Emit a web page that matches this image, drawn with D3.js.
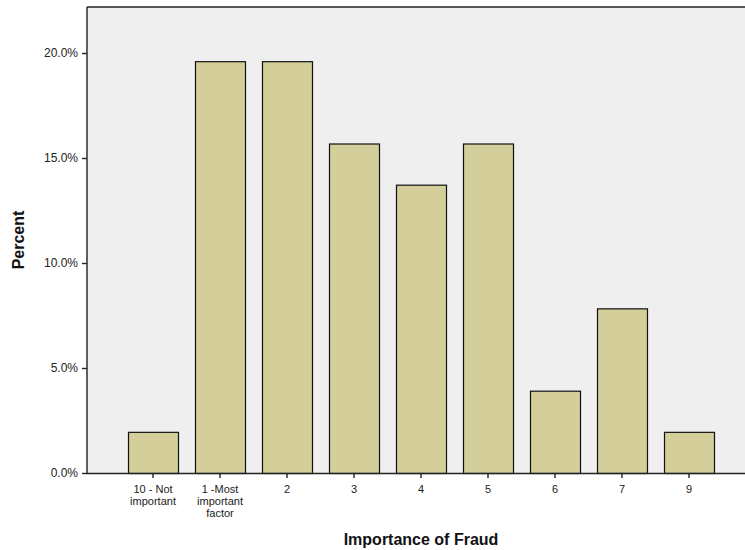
<!DOCTYPE html>
<html><head><meta charset="utf-8">
<script src="https://cdn.jsdelivr.net/npm/d3@7"></script>
<style>body{margin:0;background:#fff}svg{display:block}text{font-family:"Liberation Sans",Arial,sans-serif}</style>
</head><body><svg id="c" width="745" height="550"></svg>
<script>
const categories = ["10 - Not\nimportant", "1 -Most\nimportant\nfactor", "2", "3", "4", "5", "6", "7", "9"];
const percents = [1.96, 19.61, 19.61, 15.69, 13.73, 15.69, 3.92, 7.84, 1.96];
const yTicks = [0, 5, 10, 15, 20];
const xTitle = "Importance of Fraud";
const yTitle = "Percent";

const svg = d3.select("#c");
const plot = {left: 87, top: 7, right: 746, bottom: 473};

svg.append("rect").attr("x", plot.left).attr("y", plot.top)
  .attr("width", plot.right - plot.left + 2).attr("height", plot.bottom - plot.top)
  .attr("fill", "#efefef");

const x = d3.scaleBand().domain(categories).range([119.5, 722.5])
  .paddingInner(17/67).paddingOuter(17/134);
const y = d3.scaleLinear().domain([0, 20]).range([plot.bottom, 53]);

svg.selectAll("rect.bar").data(percents).join("rect").attr("class", "bar")
  .attr("x", (d, i) => x(categories[i]) + 0.5)
  .attr("y", d => y(d) + 0.5)
  .attr("width", x.bandwidth())
  .attr("height", d => plot.bottom - y(d))
  .attr("fill", "#d3ce9a").attr("stroke", "#111").attr("stroke-width", 1.2);

// frame lines
svg.append("line").attr("x1", plot.left).attr("x2", 745).attr("y1", plot.top).attr("y2", plot.top)
  .attr("stroke", "#222").attr("stroke-width", 1.6);
svg.append("line").attr("x1", plot.left).attr("x2", plot.left).attr("y1", plot.top).attr("y2", plot.bottom)
  .attr("stroke", "#222").attr("stroke-width", 1.4);

// y axis
const yAxis = d3.axisLeft(y).tickValues(yTicks).tickSize(5).tickPadding(4)
  .tickFormat(d => d3.format(".1f")(d) + "%");
const gy = svg.append("g").attr("transform", `translate(${plot.left},0)`).call(yAxis);
gy.select(".domain").remove();
gy.selectAll(".tick line").attr("stroke", "#222").attr("stroke-width", 1.4);
gy.selectAll(".tick text").attr("font-size", 12).attr("fill", "#222")
  .attr("font-family", '"Liberation Sans",Arial,sans-serif');

// x axis
const xAxis = d3.axisBottom(x).tickSize(5).tickPadding(4).tickFormat("");
const gx = svg.append("g").attr("transform", `translate(0,${plot.bottom})`).call(xAxis);
gx.select(".domain").attr("d", `M${plot.left},0.5H745`).attr("stroke", "#222").attr("stroke-width", 1.4);
gx.selectAll(".tick line").attr("stroke", "#222").attr("stroke-width", 1.4);
gx.selectAll(".tick").each(function(d) {
  const lines = d.split("\n");
  const t = d3.select(this).append("text").attr("fill", "#222").attr("font-size", 11)
    .attr("text-anchor", "middle").attr("font-family", '"Liberation Sans",Arial,sans-serif');
  lines.forEach((l, i) => t.append("tspan").attr("x", 0).attr("y", 19.5 + i * 12.4).text(l));
});

svg.append("text").attr("x", 421).attr("y", 545).attr("text-anchor", "middle")
  .attr("font-size", 16).attr("font-weight", "bold").attr("fill", "#111").text(xTitle);
svg.append("text").attr("transform", "translate(24,240) rotate(-90)").attr("text-anchor", "middle")
  .attr("font-size", 16).attr("font-weight", "bold").attr("fill", "#111").text(yTitle);
</script></body></html>
